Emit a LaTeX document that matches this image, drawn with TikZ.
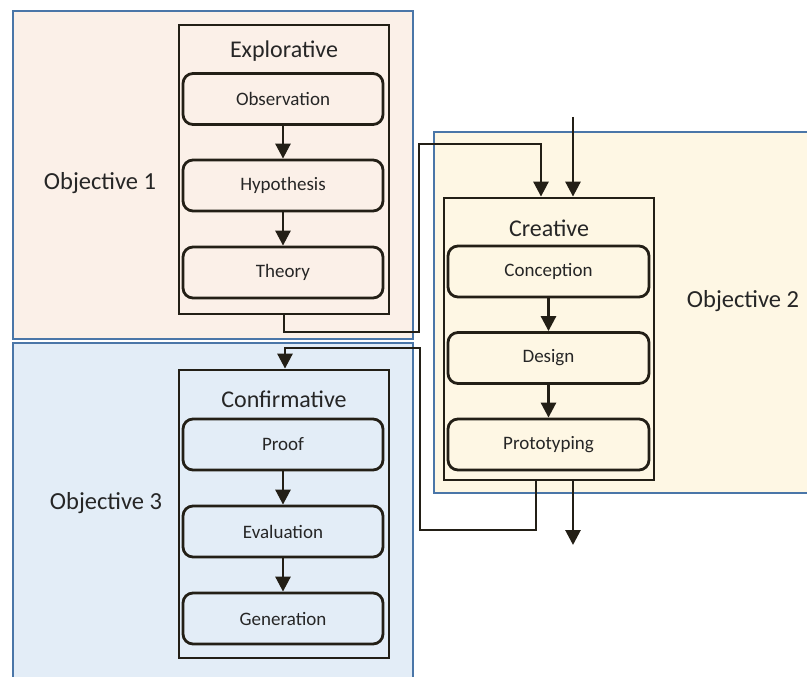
\documentclass[tikz,border=0pt]{standalone}
\usepackage{fontspec}
\setmainfont{Carlito}
\usetikzlibrary{arrows.meta}
\definecolor{regA}{HTML}{FBF0E8}
\definecolor{regB}{HTML}{FEF7E4}
\definecolor{regC}{HTML}{E3EDF7}
\definecolor{regline}{HTML}{4A76A8}
\definecolor{ink}{HTML}{231F16}
\definecolor{txt}{HTML}{262626}
\tikzset{
 region/.style={draw=regline, line width=2pt, inner sep=0pt, anchor=north west},
 container/.style={draw=ink, line width=2.8pt, minimum width=210pt, inner sep=0pt},
 stepbox/.style={draw=ink, line width=2.8pt, rounded corners=10pt, minimum width=200pt, minimum height=51pt, inner sep=0pt, font=\fontsize{19}{21}\selectfont, text=txt},
 title/.style={font=\fontsize{24}{26}\selectfont, text=txt, inner sep=0pt},
 objlabel/.style={font=\fontsize{24.5}{26}\selectfont, text=txt, inner sep=0pt},
 flow/.style={draw=ink, line width=2.8pt, -{Triangle[length=15pt,width=15pt]}},
}
\begin{document}
\begin{tikzpicture}[x=1pt,y=-1pt]
\clip (0,0) rectangle (807,677);
\fill[white] (0,0) rectangle (807,677);
% regions
\node[region, fill=regA, minimum width=400pt, minimum height=328pt] (regone) at (12,10) {};
\node[region, fill=regC, minimum width=400pt, minimum height=350pt] (regthree) at (12,342) {};
\node[region, fill=regB, minimum width=390pt, minimum height=361pt] (regtwo) at (433,131) {};
% objective labels
\node[objlabel] (obj1) at (100,183) {Objective 1};
\node[objlabel] (obj2) at (743,301) {Objective 2};
\node[objlabel] (obj3) at (106,503) {Objective 3};
% Explorative
\node[container, minimum height=289pt] (expl) at (284,169.5) {};
\node[title] (explt) at (284,51.5) {Explorative};
\node[stepbox] (obs) at (283,99) {Observation};
\node[stepbox] (hyp) at (283,185.5) {Hypothesis};
\node[stepbox] (theo) at (283,272.5) {Theory};
% Creative
\node[container, minimum height=282pt] (crea) at (549,339) {};
\node[title] (creat) at (549,228.5) {Creative};
\node[stepbox, minimum width=201pt] (conc) at (548.5,271.5) {Conception};
\node[stepbox, minimum width=201pt] (desi) at (548.5,358) {Design};
\node[stepbox, minimum width=201pt] (prot) at (548.5,444.5) {Prototyping};
% Confirmative
\node[container, minimum height=288pt] (conf) at (284,514) {};
\node[title] (conft) at (284,399.5) {Confirmative};
\node[stepbox] (proof) at (283,444.5) {Proof};
\node[stepbox] (eval) at (283,531.5) {Evaluation};
\node[stepbox] (gen) at (283,618.5) {Generation};
% inner arrows
\draw[flow] (obs) -- (hyp);
\draw[flow] (hyp) -- (theo);
\draw[flow] (conc) -- (desi);
\draw[flow] (desi) -- (prot);
\draw[flow] (proof) -- (eval);
\draw[flow] (eval) -- (gen);
% connectors
\coordinate (k1) at (419,332);
\coordinate (k2) at (541,144);
\draw[flow] (expl.south) |- (k1) |- (k2) -- (k2 |- crea.north);
\coordinate (k3) at (536,0);
\coordinate (k4) at (420,530);
\coordinate (k5) at (285,348);
\draw[flow] (k3 |- crea.south) |- (k4) |- (k5) -- (k5 |- conf.north);
\coordinate (kin) at (573,117);
\draw[flow] (kin) -- (kin |- crea.north);
\coordinate (kout) at (573,545);
\draw[flow] (kout |- crea.south) -- (kout);
\end{tikzpicture}
\end{document}
